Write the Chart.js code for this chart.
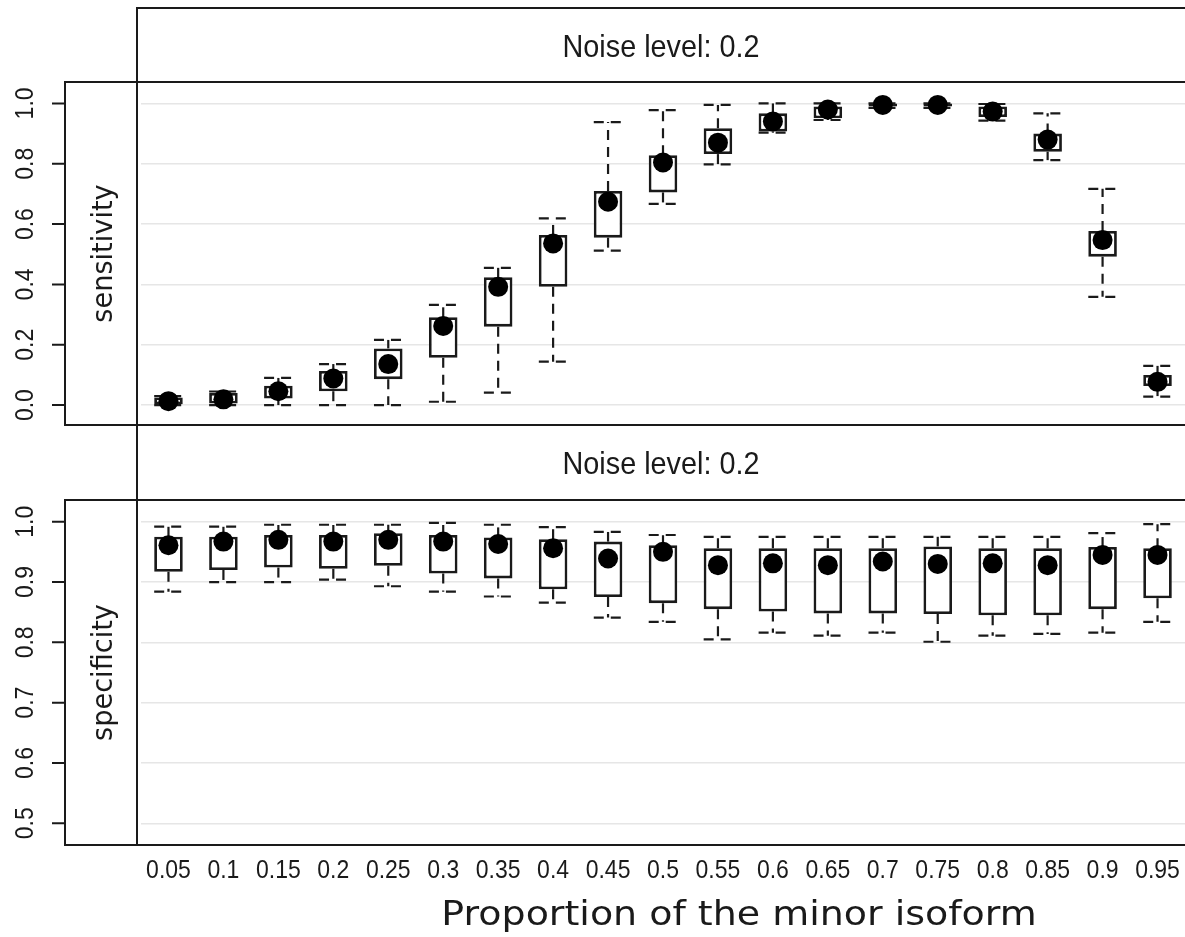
<!DOCTYPE html>
<html>
<head>
<meta charset="utf-8">
<script src="https://cdn.jsdelivr.net/npm/chart.js@4"></script>
<style>
  html, body { margin: 0; background: #fff; }
  #wrap { position: relative; width: 1185px; height: 937px; overflow: hidden; }
  canvas { position: absolute; left: 0; }
  #sens { top: 0; }
  #spec { top: 425px; }
</style>
</head>
<body>
<div id="wrap">
  <canvas id="sens" width="1185" height="427"></canvas>
  <canvas id="spec" width="1185" height="512"></canvas>
</div>
<script>
// categories: proportion of the minor isoform
const proportions = ["0.05", "0.1", "0.15", "0.2", "0.25", "0.3", "0.35", "0.4", "0.45", "0.5",
  "0.55", "0.6", "0.65", "0.7", "0.75", "0.8", "0.85", "0.9", "0.95"];

// sensitivity, noise level 0.2 (whisker ends, quartiles, median)
const sensTicks = [0, 0.2, 0.4, 0.6, 0.8, 1.0];
const sensLow = [0, 0, 0, 0, 0, 0.011, 0.041, 0.144, 0.512, 0.667, 0.798, 0.903, 0.945, 0.985, 0.985, 0.943, 0.812, 0.359, 0.028];
const sensQ1 = [0, 0.005, 0.022, 0.046, 0.086, 0.157, 0.26, 0.392, 0.555, 0.705, 0.832, 0.907, 0.951, 0.99, 0.99, 0.955, 0.84, 0.492, 0.063];
const sensMedian = [0.013, 0.019, 0.046, 0.088, 0.136, 0.262, 0.392, 0.536, 0.674, 0.804, 0.87, 0.94, 0.98, 0.995, 0.995, 0.973, 0.88, 0.547, 0.077];
const sensQ3 = [0.025, 0.04, 0.064, 0.113, 0.188, 0.291, 0.424, 0.564, 0.71, 0.828, 0.918, 0.967, 0.99, 1.0, 1.0, 0.99, 0.9, 0.577, 0.1];
const sensHigh = [0.03, 0.045, 0.09, 0.136, 0.216, 0.332, 0.455, 0.619, 0.938, 0.978, 0.995, 1.0, 1.0, 1.0, 1.0, 0.998, 0.967, 0.717, 0.13];

// specificity, noise level 0.2
const specTicks = [0.5, 0.6, 0.7, 0.8, 0.9, 1.0];
const specLow = [0.884, 0.9, 0.9, 0.904, 0.893, 0.884, 0.876, 0.866, 0.841, 0.834, 0.805, 0.816, 0.811, 0.816, 0.801, 0.811, 0.814, 0.816, 0.834];
const specQ1 = [0.917, 0.92, 0.924, 0.922, 0.927, 0.914, 0.906, 0.888, 0.875, 0.865, 0.855, 0.851, 0.848, 0.848, 0.847, 0.845, 0.845, 0.855, 0.873];
const specMedian = [0.961, 0.967, 0.97, 0.967, 0.97, 0.967, 0.963, 0.956, 0.939, 0.95, 0.928, 0.931, 0.928, 0.934, 0.93, 0.931, 0.928, 0.945, 0.945];
const specQ3 = [0.975, 0.975, 0.978, 0.978, 0.981, 0.978, 0.974, 0.971, 0.967, 0.961, 0.956, 0.956, 0.956, 0.956, 0.959, 0.956, 0.956, 0.958, 0.956];
const specHigh = [0.992, 0.992, 0.995, 0.995, 0.995, 0.998, 0.995, 0.991, 0.983, 0.978, 0.975, 0.975, 0.975, 0.975, 0.975, 0.975, 0.975, 0.981, 0.996];

const INK = "#1a1a1a";
const NARROW = "Liberation Sans";
const WIDE = "DejaVu Sans";

function text(ctx, str, x, y, font, sx, rot) {
  ctx.save();
  ctx.translate(x, y);
  if (rot) ctx.rotate(rot);
  ctx.scale(sx, 1);
  ctx.font = font;
  ctx.fillStyle = INK;
  ctx.textAlign = "center";
  ctx.textBaseline = "alphabetic";
  ctx.fillText(str, 0, 0);
  ctx.restore();
}

// dashed whiskers with caps, drawn under the boxes
function whiskers(p) {
  return {
    id: "whiskers",
    beforeDatasetsDraw(chart) {
      const ctx = chart.ctx, x = chart.scales.x, y = chart.scales.y, a = chart.chartArea;
      const boxes = chart.getDatasetMeta(0).data;
      ctx.save();
      ctx.beginPath();
      ctx.rect(a.left, a.top, a.right - a.left, a.bottom - a.top);
      ctx.clip();
      ctx.strokeStyle = INK;
      ctx.lineWidth = 2.2;
      ctx.setLineDash([10, 7]);
      p.low.forEach((lo, i) => {
        const cx = x.getPixelForValue(i), half = boxes[i].width / 2;
        [[p.q1[i], lo], [p.q3[i], p.high[i]]].forEach(([from, to]) => {
          const y0 = y.getPixelForValue(from), y1 = y.getPixelForValue(to);
          ctx.beginPath();
          ctx.moveTo(cx, y0);
          ctx.lineTo(cx, y1);
          ctx.stroke();
          ctx.beginPath();
          ctx.moveTo(cx - half, y1);
          ctx.lineTo(cx + half, y1);
          ctx.stroke();
        });
      });
      ctx.restore();
    }
  };
}

// lattice-like frame: strip, label box, y ticks, x ticks
function frame(p) {
  return {
    id: "frame",
    afterDraw(chart) {
      const ctx = chart.ctx, a = chart.chartArea, x = chart.scales.x, y = chart.scales.y;
      const W = chart.width;
      ctx.save();
      ctx.strokeStyle = INK;
      ctx.lineWidth = 2;
      ctx.beginPath();
      if (p.stripTop > 0) {
        ctx.moveTo(W, p.stripTop);
        ctx.lineTo(137, p.stripTop);
        ctx.lineTo(137, a.bottom + 2);
      } else {
        ctx.moveTo(137, 0);
        ctx.lineTo(137, a.bottom);
      }
      ctx.moveTo(W, a.top);
      ctx.lineTo(65, a.top);
      ctx.lineTo(65, a.bottom);
      ctx.lineTo(W, a.bottom);
      p.ticks.forEach(v => {
        const py = y.getPixelForValue(v);
        ctx.moveTo(52, py);
        ctx.lineTo(65, py);
      });
      ctx.stroke();
      ctx.restore();

      text(ctx, p.strip, (137 + W) / 2, (p.stripTop + a.top) / 2 + 11.5, "32px " + NARROW, 0.9);
      p.ticks.forEach(v => {
        text(ctx, v.toFixed(1), 33, y.getPixelForValue(v), "25px " + NARROW, 0.92, -Math.PI / 2);
      });
      text(ctx, p.label, 112, (a.top + a.bottom) / 2, "28px " + WIDE, 0.97, -Math.PI / 2);
      if (p.xAxis) {
        proportions.forEach((lab, i) => {
          text(ctx, lab, x.getPixelForValue(i), a.bottom + 33, "25px " + NARROW, 0.92);
        });
        text(ctx, p.xAxis, 739, a.bottom + 80, "33px " + WIDE, 1.15);
      }
    }
  };
}

function panel(canvas, p) {
  return new Chart(canvas, {
    type: "bar",
    data: {
      labels: proportions,
      datasets: [
        {
          data: p.q1.map((v, i) => [v, p.q3[i]]),
          backgroundColor: "#ffffff",
          borderColor: INK,
          borderWidth: 2.8,
          borderSkipped: false,
          barPercentage: 0.52,
          categoryPercentage: 1,
          order: 1
        },
        {
          type: "line",
          data: p.median,
          showLine: false,
          pointRadius: 10,
          pointHoverRadius: 10,
          pointBackgroundColor: "#000",
          pointBorderWidth: 0,
          order: 0
        }
      ]
    },
    options: {
      responsive: false,
      animation: false,
      events: [],
      layout: { autoPadding: false, padding: { top: p.top, bottom: p.bottom, left: 0, right: 0 } },
      scales: {
        x: { display: false, offset: true },
        y: {
          min: p.min,
          max: p.max,
          afterBuildTicks: s => { s.ticks = p.ticks.map(v => ({ value: v })); },
          afterFit: s => { s.width = 141; },
          ticks: { display: false },
          grid: { color: "#e6e6e6", lineWidth: 1.5, drawTicks: false },
          border: { display: false }
        }
      },
      plugins: { legend: { display: false }, tooltip: { enabled: false } }
    },
    plugins: [whiskers(p), frame(p)]
  });
}

panel(document.getElementById("sens"), {
  low: sensLow, q1: sensQ1, median: sensMedian, q3: sensQ3, high: sensHigh,
  ticks: sensTicks, min: -0.066, max: 1.071, top: 82, bottom: 2, stripTop: 8,
  strip: "Noise level: 0.2", label: "sensitivity"
});

panel(document.getElementById("spec"), {
  low: specLow, q1: specQ1, median: specMedian, q3: specQ3, high: specHigh,
  ticks: specTicks, min: 0.464, max: 1.036, top: 75, bottom: 92, stripTop: 0,
  strip: "Noise level: 0.2", label: "specificity", xAxis: "Proportion of the minor isoform"
});
</script>
</body>
</html>
